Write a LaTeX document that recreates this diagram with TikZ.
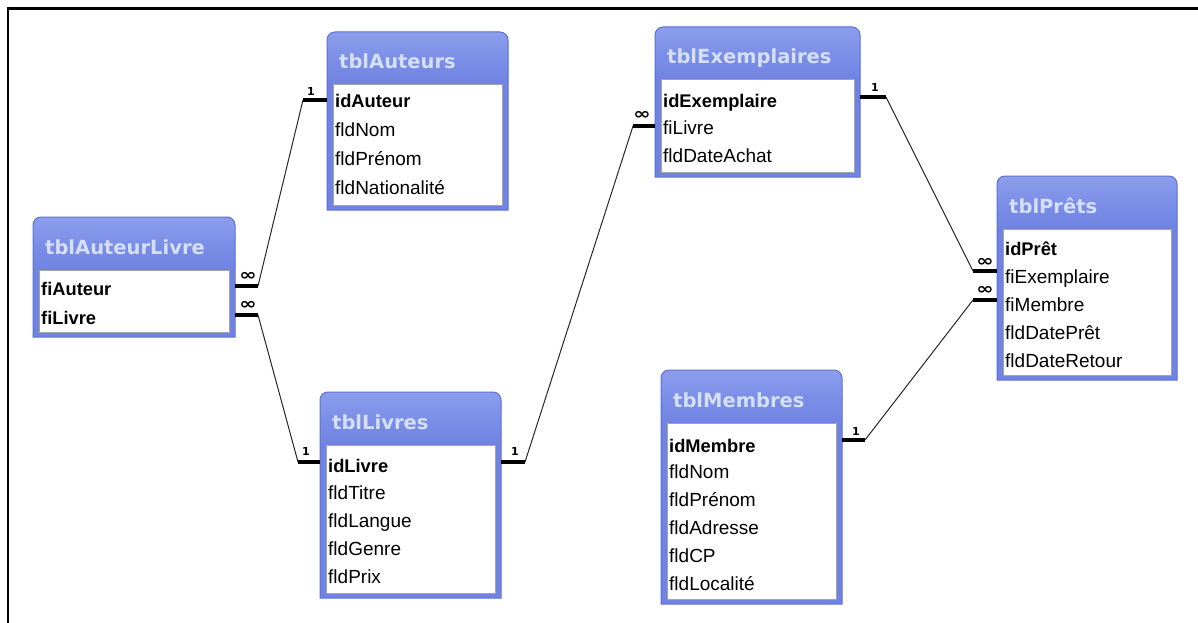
\documentclass[tikz,border=0pt]{standalone}
\usepackage{fontspec}
\setmainfont{Liberation Sans}
\newfontfamily\hdrfont{DejaVu Sans}
\usetikzlibrary{fit,calc}
\definecolor{tblbody}{HTML}{7083E2}
\definecolor{tbltop}{HTML}{8C9EEC}
\definecolor{tblmid}{HTML}{7B8FE7}
\definecolor{tbledge}{HTML}{5E6FD6}
\definecolor{tbltitle}{HTML}{D6DFF8}
\definecolor{innerline}{HTML}{A4A4A4}
\tikzset{
  framenode/.style={inner sep=0pt, outer sep=0pt},
  titletxt/.style={font=\hdrfont\bfseries\fontsize{19.5}{22}\selectfont, text=tbltitle, inner sep=0pt},
  rowtxt/.style={font=\fontsize{19}{22}\selectfont, inner sep=0pt, text height=14pt, text depth=4pt},
  keyrow/.style={font=\bfseries\fontsize{18.3}{22}\selectfont},
  stub/.style={line width=3.6pt, black},
  rel/.style={line width=1pt, black!85},
  many/.style={font=\hdrfont\bfseries\fontsize{16}{16}\selectfont, inner sep=0pt, xscale=1.3, transform shape},
  one/.style={font=\hdrfont\bfseries\fontsize{11}{11}\selectfont, inner sep=0pt},
}
% #1 name, #2 x1, #3 y1, #4 x2, #5 y2, #6 title
\newcommand\dbtable[6]{%
  \node[framenode, fit={(#2,#3) (#4,#5)}] (#1) {};
  \fill[tblbody] (#1.south west) -- ([yshift=-8pt]#1.north west)
     arc[start angle=180,end angle=90,radius=8pt] -- ([xshift=-8pt]#1.north east)
     arc[start angle=90,end angle=0,radius=8pt] -- (#1.south east) -- cycle;
  \shade[top color=tbltop, bottom color=tblbody, middle color=tblmid] ([yshift=-53pt]#1.north west) -- ([yshift=-8pt]#1.north west)
     arc[start angle=180,end angle=90,radius=8pt] -- ([xshift=-8pt]#1.north east)
     arc[start angle=90,end angle=0,radius=8pt] -- ([yshift=-53pt]#1.north east) -- cycle;
  \draw[tbledge, line width=1pt] (#1.south west) -- ([yshift=-8pt]#1.north west)
     arc[start angle=180,end angle=90,radius=8pt] -- ([xshift=-8pt]#1.north east)
     arc[start angle=90,end angle=0,radius=8pt] -- (#1.south east) -- cycle;
  \node[titletxt, anchor=base west] (#1-title) at ([xshift=12pt,yshift=-37pt]#1.north west) {#6};
  \draw[innerline, fill=white, line width=1pt] ([xshift=6pt,yshift=-53pt]#1.north west) rectangle ([xshift=-6pt,yshift=5pt]#1.south east);
}
% #1 name, #2 x1, #3 y, #4 text
\newcommand\dbrow[4]{\node[rowtxt, anchor=west] (#1) at ({#2+8},#3) {#4};}
\newcommand\dbkey[4]{\node[rowtxt, keyrow, anchor=west] (#1) at ({#2+8},#3) {#4};}

\begin{document}
\begin{tikzpicture}[x=1pt,y=-1pt]
\useasboundingbox (0,0) rectangle (1198,623);
\draw[line width=2.2pt] (7.6,623) -- (7.6,8.6) -- (1198,8.6);

% tblAuteurLivre
\dbtable{al}{33}{217}{235}{337}{tblAuteurLivre}
\dbkey{al1}{33}{290}{fiAuteur}
\dbkey{al2}{33}{319}{fiLivre}

% tblAuteurs
\dbtable{au}{327}{32}{508}{210}{tblAuteurs}
\dbkey{au1}{327}{103}{idAuteur}
\dbrow{au2}{327}{131}{fldNom}
\dbrow{au3}{327}{160}{fldPrénom}
\dbrow{au4}{327}{189}{fldNationalité}

% tblLivres
\dbtable{li}{320}{392}{501}{598}{tblLivres}
\dbkey{li1}{320}{467}{idLivre}
\dbrow{li2}{320}{494}{fldTitre}
\dbrow{li3}{320}{522}{fldLangue}
\dbrow{li4}{320}{550}{fldGenre}
\dbrow{li5}{320}{578}{fldPrix}

% tblExemplaires
\dbtable{ex}{655}{27}{860}{177}{tblExemplaires}
\dbkey{ex1}{655}{102}{idExemplaire}
\dbrow{ex2}{655}{129}{fiLivre}
\dbrow{ex3}{655}{157}{fldDateAchat}

% tblMembres
\dbtable{me}{661}{370}{842}{604}{tblMembres}
\dbkey{me1}{661}{447}{idMembre}
\dbrow{me2}{661}{473}{fldNom}
\dbrow{me3}{661}{501}{fldPrénom}
\dbrow{me4}{661}{529}{fldAdresse}
\dbrow{me5}{661}{557}{fldCP}
\dbrow{me6}{661}{585}{fldLocalité}

% tblPrets
\dbtable{pr}{997}{176}{1177}{380}{tblPrêts}
\dbkey{pr1}{997}{250}{idPrêt}
\dbrow{pr2}{997}{278}{fiExemplaire}
\dbrow{pr3}{997}{306}{fiMembre}
\dbrow{pr4}{997}{334}{fldDatePrêt}
\dbrow{pr5}{997}{362}{fldDateRetour}

% edge points on table borders
\coordinate (p-al1) at ([yshift=4pt]al.east |- al1);
\coordinate (p-al2) at ([yshift=4pt]al.east |- al2);
\coordinate (p-au1) at ([yshift=3pt]au.west |- au1);
\coordinate (p-li1w) at ([yshift=5pt]li.west |- li1);
\coordinate (p-li1e) at ([yshift=5pt]li.east |- li1);
\coordinate (p-ex2) at ([yshift=3pt]ex.west |- ex2);
\coordinate (p-ex1) at ([yshift=5pt]ex.east |- ex1);
\coordinate (p-pr2) at ([yshift=7pt]pr.west |- pr2);
\coordinate (p-pr3) at ([yshift=6pt]pr.west |- pr3);
\coordinate (p-me1) at ([yshift=7pt]me.east |- me1);

% relation 1: tblAuteurLivre.fiAuteur -> tblAuteurs.idAuteur
\draw[stub] (p-al1) -- ++(23,0) coordinate (k1a);
\draw[stub] (p-au1) -- ++(-24,0) coordinate (k1b);
\draw[rel] (k1a) -- (k1b);
\node[many] (m1a) at ($(p-al1)+(13,-10)$) {∞};
\node[one] (m1b) at ($(p-au1)+(-16,-9)$) {1};

% relation 2: tblAuteurLivre.fiLivre -> tblLivres.idLivre
\draw[stub] (p-al2) -- ++(23,0) coordinate (k2a);
\draw[stub] (p-li1w) -- ++(-22,0) coordinate (k2b);
\draw[rel] (k2a) -- (k2b);
\node[many] (m2a) at ($(p-al2)+(13,-10)$) {∞};
\node[one] (m2b) at ($(p-li1w)+(-14,-11)$) {1};

% relation 3: tblLivres.idLivre -> tblExemplaires.fiLivre
\draw[stub] (p-li1e) -- ++(24,0) coordinate (k3a);
\draw[stub] (p-ex2) -- ++(-22,0) coordinate (k3b);
\draw[rel] (k3a) -- (k3b);
\node[one] (m3a) at ($(p-li1e)+(14,-11)$) {1};
\node[many] (m3b) at ($(p-ex2)+(-13,-11)$) {∞};

% relation 4: tblExemplaires.idExemplaire -> tblPrets.fiExemplaire
\draw[stub] (p-ex1) -- ++(26,0) coordinate (k4a);
\draw[stub] (p-pr2) -- ++(-24,0) coordinate (k4b);
\draw[rel] (k4a) -- (k4b);
\node[one] (m4a) at ($(p-ex1)+(15,-10)$) {1};
\node[many] (m4b) at ($(p-pr2)+(-12,-9)$) {∞};

% relation 5: tblMembres.idMembre -> tblPrets.fiMembre
\draw[stub] (p-me1) -- ++(23,0) coordinate (k5a);
\draw[stub] (p-pr3) -- ++(-24,0) coordinate (k5b);
\draw[rel] (k5a) -- (k5b);
\node[one] (m5a) at ($(p-me1)+(14,-9)$) {1};
\node[many] (m5b) at ($(p-pr3)+(-12,-10)$) {∞};
\end{tikzpicture}
\end{document}
